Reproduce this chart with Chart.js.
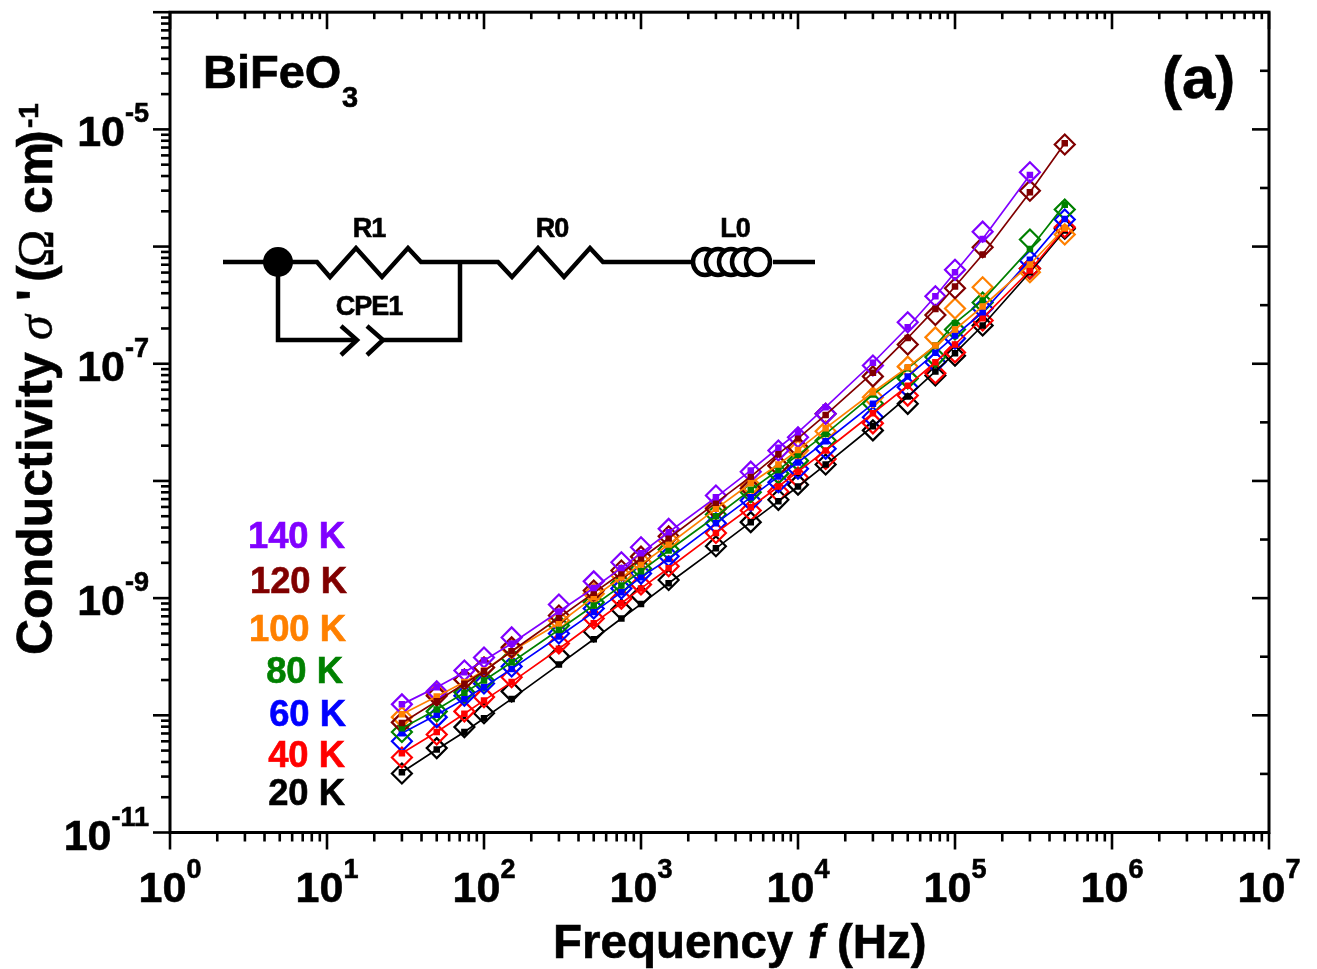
<!DOCTYPE html>
<html>
<head>
<meta charset="utf-8">
<title>BiFeO3 conductivity</title>
<script src="https://cdn.jsdelivr.net/npm/chart.js@4/dist/chart.umd.min.js"></script>
<style>
html,body{margin:0;padding:0;background:#fff;overflow:hidden}
canvas{display:block}
</style>
</head>
<body>
<canvas id="myChart" width="1317" height="969"></canvas>
<script>
// frequencies in Hz
var freq = [30,50,75,100,150,300,500,750,1000,1500,3000,5000,7500,10000,15000,30000,50000,75000,100000,150000,300000,500000];

// small squares + line
var sq20 = [3.27e-11,5.1e-11,7.2e-11,9.45e-11,1.38e-10,2.71e-10,4.46e-10,6.7e-10,8.9e-10,1.34e-9,2.66e-9,4.45e-9,6.7e-9,8.96e-9,1.38e-8,2.93e-8,5.25e-8,8.6e-8,1.23e-7,2.12e-7,6.04e-7,1.37e-6];
var sq40 = [4.75e-11,7.2e-11,1.03e-10,1.34e-10,1.92e-10,3.7e-10,6.1e-10,9.05e-10,1.21e-9,1.8e-9,3.6e-9,5.96e-9,8.96e-9,1.2e-8,1.82e-8,3.78e-8,6.5e-8,1.03e-7,1.46e-7,2.45e-7,6.25e-7,1.42e-6];
var sq60 = [7.03e-11,1.01e-10,1.38e-10,1.74e-10,2.49e-10,4.7e-10,7.6e-10,1.12e-9,1.51e-9,2.16e-9,4.35e-9,7.25e-9,1.09e-8,1.44e-8,2.18e-8,4.55e-8,7.8e-8,1.24e-7,1.74e-7,2.75e-7,7.7e-7,1.72e-6];
var sq80 = [7.76e-11,1.12e-10,1.56e-10,1.98e-10,2.84e-10,5.37e-10,8.65e-10,1.28e-9,1.7e-9,2.55e-9,5.0e-9,8.4e-9,1.24e-8,1.67e-8,2.52e-8,5.46e-8,9.15e-8,1.43e-7,2.22e-7,3.46e-7,9.55e-7,2.28e-6];
var sq100 = [1.02e-10,1.45e-10,1.92e-10,2.41e-10,3.52e-10,6.1e-10,1.02e-9,1.5e-9,1.94e-9,2.87e-9,5.78e-9,9.55e-9,1.38e-8,1.84e-8,2.82e-8,5.71e-8,9.35e-8,1.43e-7,1.96e-7,3.08e-7,7.03e-7,1.44e-6];
var sq120 = [8.6e-11,1.32e-10,1.86e-10,2.38e-10,3.52e-10,6.8e-10,1.11e-9,1.63e-9,2.18e-9,3.24e-9,6.5e-9,1.09e-8,1.7e-8,2.31e-8,3.66e-8,8.4e-8,1.66e-7,2.94e-7,4.56e-7,8.55e-7,2.91e-6,7.6e-6];
var sq140 = [1.24e-10,1.74e-10,2.33e-10,2.94e-10,4.1e-10,7.7e-10,1.22e-9,1.81e-9,2.42e-9,3.65e-9,7.25e-9,1.23e-8,1.92e-8,2.6e-8,4.26e-8,1.02e-7,2.05e-7,3.77e-7,6.04e-7,1.16e-6,4.09e-6];

// open diamonds
var di20 = [3.19e-11,5.25e-11,7.93e-11,1.04e-10,1.6e-10,3.2e-10,5.2e-10,8.0e-10,1.05e-9,1.43e-9,2.77e-9,4.45e-9,6.9e-9,9.3e-9,1.38e-8,2.7e-8,4.55e-8,7.95e-8,1.17e-7,2.12e-7,6.5e-7,1.42e-6];
var di40 = [4.36e-11,6.87e-11,1.08e-10,1.43e-10,2.11e-10,4.1e-10,6.7e-10,9.9e-10,1.31e-9,1.87e-9,3.6e-9,5.6e-9,8.1e-9,1.07e-8,1.54e-8,3.1e-8,5.35e-8,8.3e-8,1.25e-7,2.34e-7,6.5e-7,1.46e-6];
var di60 = [6.0e-11,9.65e-11,1.47e-10,1.87e-10,2.61e-10,5.0e-10,8.15e-10,1.21e-9,1.62e-9,2.28e-9,4.35e-9,6.8e-9,9.75e-9,1.27e-8,1.88e-8,3.5e-8,6.3e-8,1.03e-7,1.64e-7,2.96e-7,7.6e-7,1.7e-6];
var di80 = [7.2e-11,1.08e-10,1.57e-10,1.98e-10,3.05e-10,5.84e-10,9.2e-10,1.33e-9,1.79e-9,2.6e-9,5.17e-9,8.0e-9,1.16e-8,1.49e-8,2.21e-8,4.58e-8,7.5e-8,1.14e-7,1.96e-7,3.33e-7,1.15e-6,2.07e-6];
var di100 = [9.65e-11,1.53e-10,2.02e-10,2.56e-10,3.72e-10,6.45e-10,1.09e-9,1.56e-9,2.02e-9,3.1e-9,5.96e-9,9.13e-9,1.35e-8,1.82e-8,2.65e-8,5.18e-8,9.45e-8,1.68e-7,2.96e-7,4.5e-7,6.04e-7,1.27e-6];
var di120 = [8.7e-11,1.47e-10,2.02e-10,2.56e-10,3.8e-10,7.1e-10,1.16e-9,1.72e-9,2.26e-9,3.37e-9,5.78e-9,8.6e-9,1.35e-8,1.94e-8,3.74e-8,7.8e-8,1.46e-7,2.61e-7,4.41e-7,9.87e-7,3.0e-6,7.43e-6];
var di140 = [1.24e-10,1.6e-10,2.41e-10,3.11e-10,4.62e-10,8.82e-10,1.39e-9,2.02e-9,2.72e-9,3.9e-9,7.5e-9,1.2e-8,1.82e-8,2.36e-8,3.74e-8,9.67e-8,2.26e-7,3.77e-7,6.33e-7,1.34e-6,4.3e-6];

var temps = ["140 K","120 K","100 K","80 K","60 K","40 K","20 K"];
var colors = ["#8000ff","#800000","#ff8000","#008000","#0000ff","#ff0000","#000000"];
var squares = [sq140,sq120,sq100,sq80,sq60,sq40,sq20];
var diamonds = [di140,di120,di100,di80,di60,di40,di20];

// temperature labels: right edge and baseline
var tempRight = [345,347,346,343,346,345,345];
var tempBase = [548,593,641,683,726,767,805];

var xDecades = [0,1,2,3,4,5,6,7];
var yDecades = [-11,-10,-9,-8,-7,-6,-5,-4];
var yLabelled = [-11,-9,-7,-5];
var minorSteps = [2,3,4,5,6,7,8,9];

function points(vals) {
    return vals.map(function (v, i) { return {x: freq[i], y: v}; });
}

// first dataset ends up on top: all squares over all diamonds, violet first
var datasets = [];
temps.forEach(function (t, i) {
    datasets.push({
        label: t,
        data: points(squares[i]),
        showLine: true,
        borderColor: colors[i],
        backgroundColor: colors[i],
        borderWidth: 1.7,
        pointStyle: 'rect',
        pointRadius: 4.6,
        pointBorderWidth: 0,
        tension: 0
    });
});
temps.forEach(function (t, i) {
    datasets.push({
        label: t + " diamonds",
        data: points(diamonds[i]),
        showLine: false,
        borderColor: colors[i],
        backgroundColor: 'rgba(0,0,0,0)',
        pointStyle: 'rectRot',
        pointRadius: 10,
        pointBorderWidth: 2.2
    });
});

var BOLD = 'bold 43px "Liberation Sans"';
var EXP = 'bold 27px "Liberation Sans"';

function text(ctx, s, x, y, font, color, align) {
    ctx.font = font;
    ctx.fillStyle = color || '#000';
    ctx.strokeStyle = color || '#000';
    ctx.lineWidth = 0.6;
    ctx.textAlign = align || 'left';
    ctx.textBaseline = 'alphabetic';
    ctx.fillText(s, x, y);
    ctx.strokeText(s, x, y);
}

function line(ctx, pts) {
    ctx.beginPath();
    ctx.moveTo(pts[0][0], pts[0][1]);
    for (var i = 1; i < pts.length; i++) ctx.lineTo(pts[i][0], pts[i][1]);
    ctx.stroke();
}

// frame, ticks and 10^n labels
var axesPlugin = {
    id: 'axesPlugin',
    afterDraw: function (c) {
        var ctx = c.ctx, a = c.chartArea, xs = c.scales.x, ys = c.scales.y;
        ctx.save();
        ctx.lineCap = 'butt';

        function ink(w) { ctx.strokeStyle = '#000'; ctx.lineWidth = w; }

        ink(3);
        ctx.strokeRect(a.left, a.top, a.right - a.left, a.bottom - a.top);

        xDecades.forEach(function (d) {
            var px = xs.getPixelForValue(Math.pow(10, d));
            ink(2.6);
            line(ctx, [[px, a.bottom], [px, a.bottom + 17]]);
            line(ctx, [[px, a.top], [px, a.top + 17]]);
            if (d < 7) {
                minorSteps.forEach(function (m) {
                    var p = xs.getPixelForValue(m * Math.pow(10, d));
                    line(ctx, [[p, a.bottom], [p, a.bottom + 9]]);
                    line(ctx, [[p, a.top], [p, a.top + 7]]);
                });
            }
            ctx.font = BOLD;
            var w10 = ctx.measureText("10").width;
            ctx.font = EXP;
            var wE = ctx.measureText(String(d)).width;
            var left = px - (w10 + wE) / 2;
            text(ctx, "10", left, 902, BOLD);
            text(ctx, String(d), left + w10, 878, EXP);
        });

        yDecades.forEach(function (d) {
            var py = ys.getPixelForValue(Math.pow(10, d));
            ink(2.6);
            line(ctx, [[a.left - 17, py], [a.left, py]]);
            line(ctx, [[a.right - 17, py], [a.right, py]]);
            if (d < -4) {
                minorSteps.forEach(function (m) {
                    var p = ys.getPixelForValue(m * Math.pow(10, d));
                    line(ctx, [[a.left - 9, p], [a.left, p]]);
                });
                var mid = ys.getPixelForValue(Math.pow(10, d + 0.5));
                line(ctx, [[a.right - 9, mid], [a.right, mid]]);
            }
            if (yLabelled.indexOf(d) >= 0) {
                text(ctx, String(d), 149, py - 7, EXP, '#000', 'right');
                var w = ctx.measureText(String(d)).width;
                text(ctx, "10", 149 - w, py + 17, BOLD, '#000', 'right');
            }
        });
        ctx.restore();
    }
};

// titles, sample name, temperature labels, equivalent circuit
var notesPlugin = {
    id: 'notesPlugin',
    afterDraw: function (c) {
        var ctx = c.ctx;
        ctx.save();

        text(ctx, "Frequency", 553, 958, 'bold 47.5px "Liberation Sans"');
        text(ctx, "f", 808, 958, 'italic bold 47.5px "Liberation Sans"');
        text(ctx, "(Hz)", 837, 958, 'bold 47.5px "Liberation Sans"');

        ctx.save();
        ctx.translate(52, 0);
        ctx.rotate(-Math.PI / 2);
        text(ctx, "Conductivity", -655, 0, 'bold 50px "Liberation Sans"');
        text(ctx, "\u03C3", -340, 0, 'italic 50px "Liberation Serif"');
        text(ctx, "'", -301, 0, 'bold 50px "Liberation Sans"');
        text(ctx, "(", -282, 0, 'bold 50px "Liberation Sans"');
        text(ctx, "\u03A9", -267, 0, '50px "Liberation Serif"');
        text(ctx, "cm", -214, 0, 'bold 50px "Liberation Sans"');
        text(ctx, ")", -147, 0, 'bold 50px "Liberation Sans"');
        text(ctx, "-1", -128, -14, 'bold 28px "Liberation Sans"');
        ctx.restore();

        text(ctx, "BiFeO", 203, 88, 'bold 47px "Liberation Sans"');
        text(ctx, "3", 342, 107, 'bold 29px "Liberation Sans"');
        text(ctx, "(a)", 1162, 98, 'bold 60px "Liberation Sans"');

        temps.forEach(function (t, i) {
            text(ctx, t, tempRight[i], tempBase[i], 'bold 36.4px "Liberation Sans"', colors[i], 'right');
        });

        // circuit
        ctx.strokeStyle = '#000';
        ctx.lineWidth = 4.5;
        ctx.lineJoin = 'miter';
        line(ctx, [[223,262],[317,262],[330,277],[356,248],[382,277],[408,248],[421,262],[498,262],[512,277],[538,248],[564,277],[590,248],[603,262],[693,262]]);
        line(ctx, [[773,262],[815,262]]);
        line(ctx, [[278,262],[278,340],[357,340]]);
        line(ctx, [[341,326],[357,340],[341,355]]);
        line(ctx, [[367,326],[383,340],[367,355]]);
        line(ctx, [[383,340],[460,340],[460,262]]);
        ctx.fillStyle = '#000';
        ctx.beginPath();
        ctx.ellipse(278, 262, 15, 15, 0, 0, Math.PI * 2);
        ctx.fill();
        [705,718,731,744,758].forEach(function (cx) {
            ctx.fillStyle = '#fff';
            ctx.strokeStyle = '#000';
            ctx.lineWidth = 4.5;
            ctx.beginPath();
            ctx.ellipse(cx, 262, 12, 13, 0, 0, Math.PI * 2);
            ctx.fill();
            ctx.stroke();
        });
        ctx.letterSpacing = '-1px';
        text(ctx, "R1", 369, 237, 'bold 27px "Liberation Sans"', '#000', 'center');
        text(ctx, "R0", 552, 237, 'bold 27px "Liberation Sans"', '#000', 'center');
        text(ctx, "L0", 735, 237, 'bold 27px "Liberation Sans"', '#000', 'center');
        text(ctx, "CPE1", 369, 315, 'bold 27px "Liberation Sans"', '#000', 'center');
        ctx.letterSpacing = '0px';
        ctx.restore();
    }
};

var myChart = new Chart(document.getElementById("myChart"), {
    type: 'scatter',
    data: {datasets: datasets},
    options: {
        responsive: false,
        animation: false,
        layout: {padding: {left: 170, top: 12, right: 48, bottom: 136.5}},
        plugins: {legend: {display: false}, tooltip: {enabled: false}},
        scales: {
            x: {
                type: 'logarithmic', min: 1, max: 1e7,
                grid: {display: false, drawTicks: false},
                border: {display: false},
                ticks: {display: false}
            },
            y: {
                type: 'logarithmic', min: 1e-11, max: 1e-4,
                grid: {display: false, drawTicks: false},
                border: {display: false},
                ticks: {display: false}
            }
        }
    },
    plugins: [axesPlugin, notesPlugin]
});
</script>
</body>
</html>
